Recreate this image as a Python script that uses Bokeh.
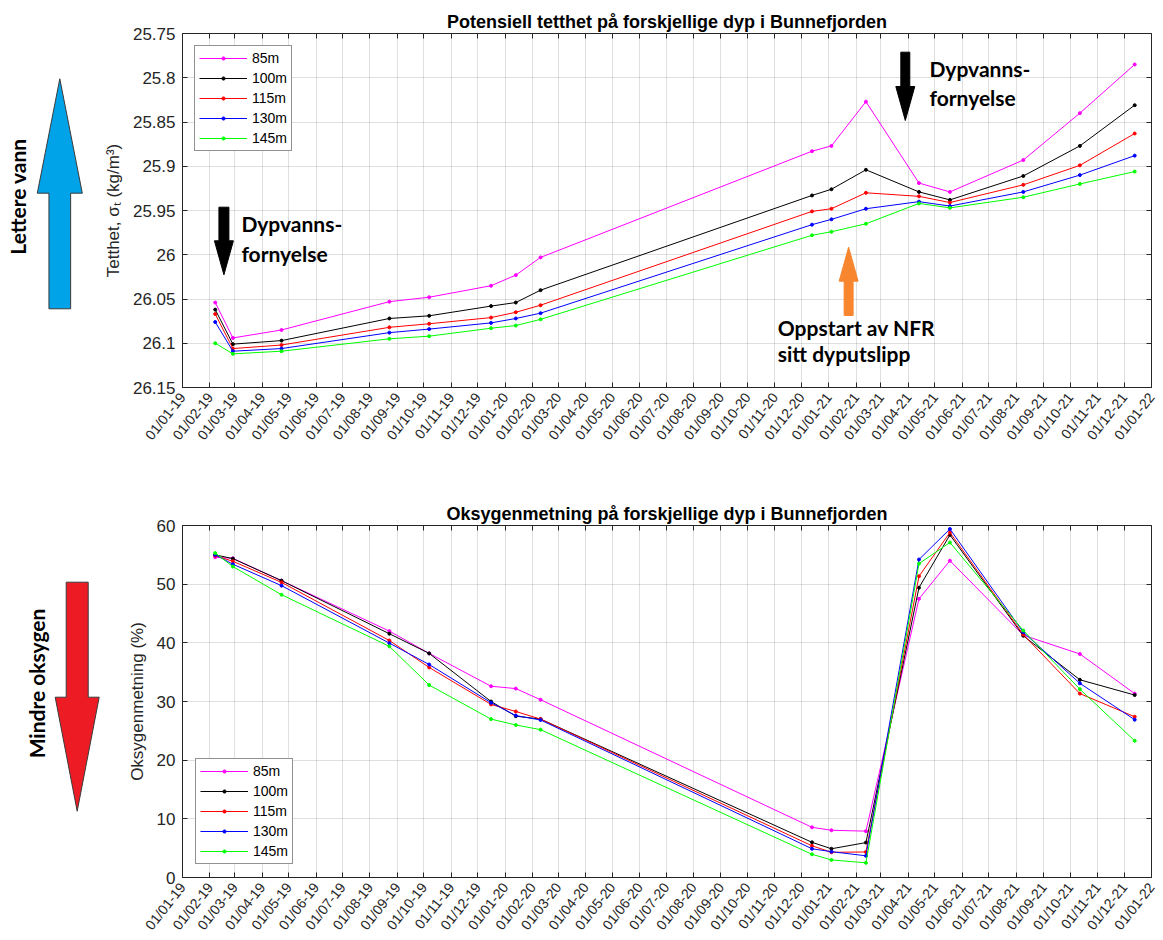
import math
import pandas as pd
from bokeh.plotting import figure
from bokeh.layouts import row, column
from bokeh.models import (ColumnDataSource, Range1d, FixedTicker, DatetimeTickFormatter,
                          LinearAxis, Legend, LegendItem, Label, CustomJSTickFormatter)
from bokeh.embed import file_html
from bokeh.resources import INLINE

# ---------------- data ----------------
SAMPLE_DATES = ["2019-02-07", "2019-02-27", "2019-04-23", "2019-08-23", "2019-10-07",
                "2019-12-16", "2020-01-13", "2020-02-10", "2020-12-13", "2021-01-04",
                "2021-02-12", "2021-04-13", "2021-05-18", "2021-08-09", "2021-10-12",
                "2021-12-13"]
DEPTHS = ["85m", "100m", "115m", "130m", "145m"]
COLORS = ["#FF00FF", "#000000", "#FF0000", "#0000FF", "#00FF00"]

DENSITY_85 = [26.054, 26.094, 26.085, 26.053, 26.048, 26.035, 26.023, 26.003,
              25.883, 25.877, 25.827, 25.919, 25.929, 25.893, 25.840, 25.785]
DENSITY_100 = [26.062, 26.101, 26.097, 26.072, 26.069, 26.058, 26.054, 26.040,
               25.933, 25.926, 25.904, 25.929, 25.938, 25.911, 25.877, 25.831]
DENSITY_115 = [26.067, 26.106, 26.102, 26.082, 26.078, 26.071, 26.065, 26.057,
               25.951, 25.948, 25.930, 25.934, 25.941, 25.921, 25.899, 25.863]
DENSITY_130 = [26.076, 26.109, 26.106, 26.088, 26.084, 26.077, 26.072, 26.066,
               25.966, 25.960, 25.948, 25.940, 25.945, 25.929, 25.910, 25.888]
DENSITY_145 = [26.100, 26.112, 26.109, 26.095, 26.092, 26.083, 26.080, 26.073,
               25.978, 25.974, 25.965, 25.942, 25.947, 25.935, 25.920, 25.906]

OXYGEN_85 = [54.6, 54.4, 50.6, 42.0, 38.2, 32.6, 32.2, 30.3,
             8.55, 8.05, 7.9, 47.5, 54.0, 41.3, 38.1, 31.35]
OXYGEN_100 = [55.0, 54.35, 50.6, 41.55, 38.2, 30.0, 27.5, 27.0,
              6.0, 4.9, 5.95, 49.4, 58.4, 41.2, 33.7, 31.1]
OXYGEN_115 = [54.85, 53.9, 50.3, 40.4, 35.8, 29.5, 28.3, 27.0,
              5.4, 4.3, 4.35, 51.35, 58.8, 41.4, 31.35, 27.4]
OXYGEN_130 = [55.0, 53.4, 49.75, 39.95, 36.3, 29.8, 27.6, 26.85,
              4.9, 4.4, 3.7, 54.2, 59.4, 41.8, 33.1, 26.9]
OXYGEN_145 = [55.3, 53.0, 48.2, 39.4, 32.8, 27.0, 26.0, 25.2,
              3.95, 3.0, 2.5, 53.5, 57.1, 42.1, 32.1, 23.3]

DENSITY = [DENSITY_85, DENSITY_100, DENSITY_115, DENSITY_130, DENSITY_145]
OXYGEN = [OXYGEN_85, OXYGEN_100, OXYGEN_115, OXYGEN_130, OXYGEN_145]

X_START = "2019-01-01"
X_END = "2022-01-01"
DENSITY_TICKS = [25.75, 25.8, 25.85, 25.9, 25.95, 26.0, 26.05, 26.1, 26.15]
OXYGEN_TICKS = [0, 10, 20, 30, 40, 50, 60]
X_TICK_FORMAT = "%d/%m-%y"

TITLE_1 = "Potensiell tetthet på forskjellige dyp i Bunnefjorden"
TITLE_2 = "Oksygenmetning på forskjellige dyp i Bunnefjorden"
YLABEL_1 = "Tetthet, σₜ (kg/m³)"
YLABEL_2 = "Oksygenmetning (%)"

# ---------------- helpers ----------------
AXIS_COLOR = "#262626"
FONT = "Liberation Sans"
ANN_FONT = "Lato"

EPOCH = pd.Timestamp("1970-01-01")


def to_ms(d):
    return (pd.Timestamp(d) - EPOCH).total_seconds() * 1000.0


X0 = to_ms(X_START)
X1 = to_ms(X_END)
MONTH_TICKS = [to_ms(d) for d in pd.date_range(X_START, X_END, freq="MS")]
DATES_DT = [pd.Timestamp(d).to_pydatetime() for d in SAMPLE_DATES]

DEC_W = 100
FIG_W = 1063
BORDER_L = 80
BORDER_R = 12
FRAME_W = FIG_W - BORDER_L - BORDER_R


def style_axis(ax, size):
    ax.axis_line_color = AXIS_COLOR
    ax.axis_line_width = 1
    ax.major_tick_line_color = AXIS_COLOR
    ax.major_tick_in = 5
    ax.major_tick_out = 0
    ax.minor_tick_line_color = None
    ax.major_label_text_font = FONT
    ax.major_label_text_font_size = size
    ax.major_label_text_color = AXIS_COLOR


def build(title, series, y_start, y_end, yticks, ylabel, height, top, bottom,
          legend_loc, legend_margin):
    p = figure(width=FIG_W, height=height, x_axis_type="datetime",
               x_range=Range1d(X0, X1), y_range=Range1d(y_start, y_end),
               output_backend="svg", toolbar_location=None,
               min_border_left=BORDER_L, min_border_right=BORDER_R,
               min_border_top=top, min_border_bottom=bottom)
    p.title.text = title
    p.title.text_font = FONT
    p.title.text_font_size = "18px"
    p.title.text_font_style = "bold"
    p.title.text_color = "black"
    p.title.align = "center"
    p.title.standoff = 4

    p.outline_line_color = AXIS_COLOR
    p.outline_line_width = 1
    p.outline_line_alpha = 1.0
    p.background_fill_color = "white"
    p.border_fill_color = "white"

    xt = FixedTicker(ticks=MONTH_TICKS)
    yt = FixedTicker(ticks=yticks)

    xa = p.xaxis[0]
    xa.ticker = xt
    xa.formatter = DatetimeTickFormatter(
        milliseconds=X_TICK_FORMAT, seconds=X_TICK_FORMAT, minsec=X_TICK_FORMAT,
        minutes=X_TICK_FORMAT, hourmin=X_TICK_FORMAT, hours=X_TICK_FORMAT,
        days=X_TICK_FORMAT, months=X_TICK_FORMAT, years=X_TICK_FORMAT)
    xa.major_label_orientation = 0.9
    style_axis(xa, "14px")
    xa.major_label_standoff = 7

    ya = p.yaxis[0]
    ya.ticker = yt
    ya.formatter = CustomJSTickFormatter(code="return String(parseFloat(tick.toFixed(2)));")
    style_axis(ya, "17px")
    ya.major_label_standoff = 7
    ya.axis_label = ylabel
    ya.axis_label_text_font = FONT
    ya.axis_label_text_font_size = "17px"
    ya.axis_label_text_font_style = "normal"
    ya.axis_label_text_color = AXIS_COLOR
    ya.axis_label_standoff = 7

    # mirrored inward ticks on top and right (box on), no labels
    blank = CustomJSTickFormatter(code="return '';")
    top_ax = LinearAxis(ticker=FixedTicker(ticks=MONTH_TICKS), formatter=blank,
                        major_label_standoff=0)
    style_axis(top_ax, "10px")
    top_ax.axis_line_color = None
    p.add_layout(top_ax, "above")
    right_ax = LinearAxis(ticker=FixedTicker(ticks=yticks), formatter=blank,
                          major_label_standoff=0)
    style_axis(right_ax, "10px")
    right_ax.axis_line_color = None
    p.add_layout(right_ax, "right")

    p.xgrid.ticker = xt
    p.ygrid.ticker = yt
    for g in (p.xgrid[0], p.ygrid[0]):
        g.grid_line_color = AXIS_COLOR
        g.grid_line_alpha = 0.15
        g.grid_line_width = 1

    items = []
    for name, color, vals in zip(DEPTHS, COLORS, series):
        src = ColumnDataSource(dict(x=DATES_DT, y=vals))
        lr = p.line("x", "y", source=src, line_color=color, line_width=1)
        sr = p.scatter("x", "y", source=src, marker="circle", size=3,
                       fill_color=color, line_color=color)
        items.append(LegendItem(label=name, renderers=[lr, sr]))

    leg = Legend(items=items, location=legend_loc)
    leg.margin = legend_margin
    leg.padding = 4
    leg.spacing = 4
    leg.label_height = 16
    leg.glyph_height = 8
    leg.glyph_width = 48
    leg.label_standoff = 5
    leg.label_text_font = FONT
    leg.label_text_font_size = "14px"
    leg.label_text_color = "black"
    leg.border_line_color = AXIS_COLOR
    leg.border_line_width = 1
    leg.background_fill_color = "white"
    leg.background_fill_alpha = 1.0
    p.add_layout(leg)
    return p


# ---------------- top plot ----------------
TOP_H = 470
TOP_FRAME_T = 33
TOP_FRAME_H = 354
p1 = build(TITLE_1, DENSITY, DENSITY_TICKS[-1], DENSITY_TICKS[0], DENSITY_TICKS, YLABEL_1,
           TOP_H, TOP_FRAME_T, TOP_H - TOP_FRAME_T - TOP_FRAME_H, "top_left", 12)

F1_L = float(DEC_W + BORDER_L)


def top_xy(px, py):
    x = X0 + (px - F1_L) / FRAME_W * (X1 - X0)
    y = DENSITY_TICKS[0] + (py - TOP_FRAME_T) / TOP_FRAME_H * (DENSITY_TICKS[-1] - DENSITY_TICKS[0])
    return x, y


def block_arrow(p, conv, cx, tail_y, tip_y, shaft_w, head_w, head_len, color, line_color=None):
    d = 1 if tip_y > tail_y else -1
    base_y = tip_y - d * head_len
    pts = [(cx - shaft_w / 2, tail_y), (cx + shaft_w / 2, tail_y),
           (cx + shaft_w / 2, base_y), (cx + head_w / 2, base_y), (cx, tip_y),
           (cx - head_w / 2, base_y), (cx - shaft_w / 2, base_y)]
    xs, ys = zip(*[conv(a, b) for a, b in pts])
    p.patch(list(xs), list(ys), fill_color=color, line_color=line_color or color,
            line_width=1)


def add_text(p, conv, px, py, text, size="21px", angle=0.0, align="left"):
    x, y = conv(px, py)
    p.add_layout(Label(x=x, y=y, text=text, text_font=ANN_FONT, text_font_size=size,
                       text_font_style="bold", text_color="black", text_baseline="middle",
                       text_align=align, angle=angle))


block_arrow(p1, top_xy, 221.5, 206.7, 274.3, 10, 19, 34, "black")
add_text(p1, top_xy, 239, 223, "Dypvanns-")
add_text(p1, top_xy, 239, 253, "fornyelse")

block_arrow(p1, top_xy, 904.3, 51.7, 120, 9, 19, 34, "black")
add_text(p1, top_xy, 928.5, 68, "Dypvanns-")
add_text(p1, top_xy, 928.5, 97, "fornyelse")

block_arrow(p1, top_xy, 847.5, 315, 246.7, 9, 19, 34, "#F7862F")
add_text(p1, top_xy, 776.5, 326.5, "Oppstart av NFR")
add_text(p1, top_xy, 776.5, 353, "sitt dyputslipp")

# ---------------- bottom plot ----------------
BOT_H = 470
BOT_FRAME_T = 55
BOT_FRAME_H = 353
p2 = build(TITLE_2, OXYGEN, OXYGEN_TICKS[0], OXYGEN_TICKS[-1], OXYGEN_TICKS, YLABEL_2,
           BOT_H, BOT_FRAME_T, BOT_H - BOT_FRAME_T - BOT_FRAME_H, "bottom_left", 13)

# ---------------- left decoration column ----------------
DEC_H = TOP_H + BOT_H
dec = figure(width=DEC_W, height=DEC_H, x_range=Range1d(0, DEC_W), y_range=Range1d(DEC_H, 0),
             output_backend="svg", toolbar_location=None, min_border=0,
             x_axis_location=None, y_axis_location=None)
dec.outline_line_color = None
dec.grid.visible = False


def page_xy(px, py):
    return px, py


block_arrow(dec, page_xy, 59.3, 308.3, 78.3, 21.7, 45, 114.4, "#00A2E8", "#3a3a3a")
add_text(dec, page_xy, 17, 196, "Lettere vann", size="21px", angle=math.pi / 2, align="center")
block_arrow(dec, page_xy, 76.7, 581.7, 810.7, 22, 44, 114, "#ED1C24", "#3a3a3a")
add_text(dec, page_xy, 36, 683, "Mindre oksygen", size="21px", angle=math.pi / 2, align="center")

layout = row(dec, column(p1, p2, spacing=0), spacing=0)
open("out.html", "w").write(file_html(layout, INLINE))
